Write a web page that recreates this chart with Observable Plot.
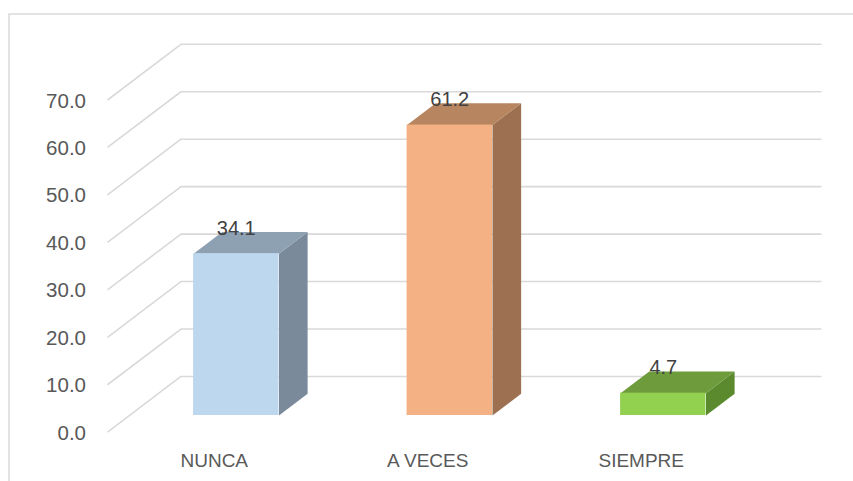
<!DOCTYPE html>
<html>
<head>
<meta charset="utf-8">
<style>html,body{margin:0;padding:0;background:#fff;overflow:hidden}svg{display:block}</style>
<script src="https://cdn.jsdelivr.net/npm/d3@7"></script>
<script src="https://cdn.jsdelivr.net/npm/@observablehq/plot@0.6"></script>
</head>
<body>
<div id="chart"></div>
<script>
// Survey answers, in percent
const categories = ["NUNCA", "A VECES", "SIEMPRE"];
const values = [34.1, 61.2, 4.7];
const yTicks = [0, 10, 20, 30, 40, 50, 60, 70];

// Face colours of each column
const frontColors = ["#BDD7EE", "#F4B183", "#92D050"];
const topColors = ["#8EA1B3", "#B7855F", "#6E9C3C"];
const sideColors = ["#7A8A9B", "#9C7050", "#5B8A2E"];

// Oblique projection of the floor: one unit of depth shifts a point by
// this much along the category axis and the value axis.
const depthX = 0.344;
const depthY = 11.74;
const project = (x, y, z) => ({x: x + z * depthX, y: y + z * depthY});

// Columns stand between these two depths, half a band wide less the gap
const zFront = 0.3;
const zBack = 0.69;
const halfWidth = 0.2;
const wallStart = -0.5;
const wallEnd = 2.5;

// Each gridline runs from the front of the floor to the back wall, then across it
const gridPaths = yTicks.flatMap((t) => [
  {...project(wallStart, t, 0), tick: t},
  {...project(wallStart, t, 1), tick: t},
  {...project(wallEnd, t, 1), tick: t}
]);

const bars = categories.map((name, i) => ({name, i, value: values[i]}));

const facePolygon = (kind, corners) => corners.map(([x, y, z]) => ({...project(x, y, z), face: kind}));

const sideFaces = bars.flatMap(({i, value}) => {
  const r = i + halfWidth;
  return facePolygon(`side${i}`, [[r, 0, zFront], [r, 0, zBack], [r, value, zBack], [r, value, zFront]])
    .map((p) => ({...p, color: sideColors[i]}));
});

const topFaces = bars.flatMap(({i, value}) => {
  const l = i - halfWidth, r = i + halfWidth;
  return facePolygon(`top${i}`, [[l, value, zFront], [r, value, zFront], [r, value, zBack], [l, value, zBack]])
    .map((p) => ({...p, color: topColors[i]}));
});

const baseY = zFront * depthY;
const frontShift = zFront * depthX;

const chart = Plot.plot({
  width: 853,
  height: 481,
  marginLeft: 85.5,
  marginRight: 0,
  marginTop: 0,
  marginBottom: 28,
  style: {fontFamily: "'Liberation Sans', Arial, sans-serif", background: "#fff"},
  x: {type: "linear", domain: [-0.5, 2.5], range: [107, 747.5], label: null},
  y: {type: "linear", domain: [0, 70], range: [431.7, 99.5], label: null},
  marks: [
    Plot.frame({stroke: "#d9d9d9", strokeWidth: 1.5, insetLeft: -77, insetTop: 13.5, insetRight: -10, insetBottom: -40}),
    Plot.line(gridPaths, {x: "x", y: "y", z: "tick", stroke: "#d9d9d9", strokeWidth: 1.6, strokeLinecap: "butt"}),
    Plot.line(sideFaces, {x: "x", y: "y", z: "face", fill: "color", stroke: "none"}),
    Plot.line(topFaces, {x: "x", y: "y", z: "face", fill: "color", stroke: "none"}),
    Plot.rect(bars, {
      x1: (d) => d.i - halfWidth + frontShift,
      x2: (d) => d.i + halfWidth + frontShift,
      y1: baseY,
      y2: (d) => baseY + d.value,
      fill: (d) => frontColors[d.i]
    }),
    Plot.axisY({
      ticks: yTicks, tickSize: 0, tickPadding: 0, label: null, dy: 1,
      tickFormat: (d) => d.toFixed(1), fontSize: 20.5, color: "#595959"
    }),
    Plot.axisX({
      ticks: [0, 1, 2], tickSize: 0, tickPadding: 0, label: null,
      tickFormat: (i) => categories[i], fontSize: 19, color: "#595959"
    }),
    Plot.text(bars, {
      x: (d) => d.i + frontShift,
      y: (d) => baseY + d.value,
      text: (d) => d.value.toFixed(1),
      dy: -25.5,
      fontSize: 20,
      fill: "#404040"
    })
  ]
});

document.getElementById("chart").append(chart);
</script>
</body>
</html>
